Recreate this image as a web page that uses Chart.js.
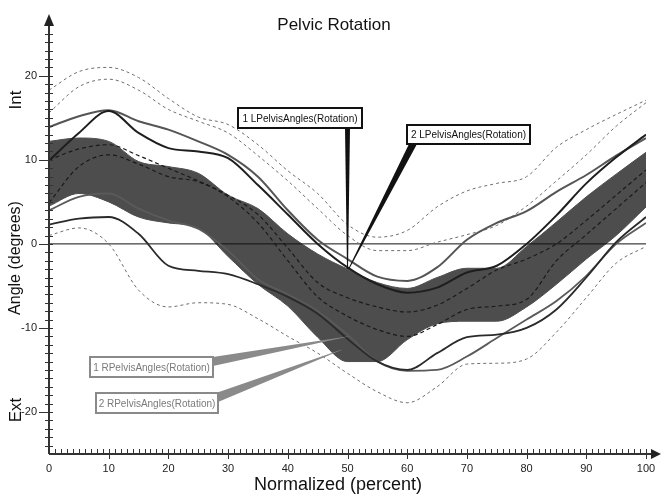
<!DOCTYPE html>
<html>
<head>
<meta charset="utf-8">
<script src="https://cdn.jsdelivr.net/npm/chart.js@4/dist/chart.umd.min.js"></script>
<style>
html, body { margin: 0; padding: 0; background: #fff; }
</style>
</head>
<body>
<canvas id="pelvis" width="661" height="498"></canvas>
<script>
// gait cycle, sampled every 5 percent
var pct = [0, 5, 10, 15, 20, 25, 30, 35, 40, 45, 50, 55, 60, 65, 70, 75, 80, 85, 90, 95, 100];

// normal range band
var normUpper = [12.2, 12.6, 12.2, 9.8, 9.2, 8.4, 5.8, 4.2, 1.2, -1.2, -3.0, -4.6, -5.3, -4.0, -2.9, -2.9, -0.3, 2.6, 5.6, 8.3, 10.9];
var normLower = [4.5, 6.0, 5.0, 3.2, 2.5, 1.9, -1.5, -4.8, -7.4, -11.1, -14.0, -14.0, -11.4, -9.5, -9.2, -9.2, -7.5, -4.8, -1.8, 1.0, 4.4];

// left side means
var left1 = [9.9, 13.2, 15.8, 13.2, 11.4, 11.0, 10.2, 7.0, 3.5, 0.0, -2.8, -4.8, -5.8, -5.2, -3.4, -2.6, 0.0, 3.4, 7.2, 10.3, 13.0];
var left2 = [13.9, 15.2, 15.9, 14.6, 13.6, 12.2, 10.6, 8.0, 4.0, 0.5, -1.8, -3.9, -4.4, -2.8, 0.5, 2.5, 3.9, 6.2, 8.2, 10.5, 12.6];
// right side means
var right1 = [2.3, 3.0, 3.2, 1.2, -2.6, -3.2, -3.6, -4.8, -6.3, -8.3, -11.3, -14.0, -15.0, -13.0, -11.1, -10.8, -10.0, -7.8, -4.0, 0.2, 3.2];
var right2 = [4.0, 5.6, 6.0, 4.2, 2.8, 1.8, -0.8, -4.2, -6.0, -8.0, -10.8, -14.0, -15.1, -15.0, -13.4, -11.2, -9.0, -6.8, -3.8, 0.0, 2.5];

// dashed spread lines
var outerUpA = [18.3, 20.5, 21.0, 19.8, 17.3, 15.1, 14.2, 11.8, 8.7, 6.0, 2.3, 0.8, 1.6, 4.4, 6.3, 7.2, 8.0, 11.5, 13.6, 15.4, 17.1];
var outerUpB = [15.6, 18.7, 19.6, 18.3, 16.0, 14.6, 13.2, 10.5, 7.5, 4.2, 1.0, -0.8, -0.8, 0.2, 1.1, 2.2, 4.5, 7.5, 10.6, 14.0, 16.8];
var outerLow = [1.0, 1.9, 0.0, -5.5, -7.5, -7.0, -7.2, -8.9, -11.0, -13.0, -15.4, -17.6, -18.9, -17.0, -14.3, -14.2, -13.7, -10.5, -6.4, -2.3, -0.3];
var innerA = [10.0, 11.3, 11.8, 10.5, 9.0, 7.5, 5.8, 3.5, -0.5, -4.6, -6.4, -7.5, -8.1, -7.3, -5.3, -3.1, -1.8, 0.0, 2.8, 5.8, 8.8];
var innerB = [4.9, 9.2, 10.6, 9.5, 8.0, 7.4, 5.6, 2.5, -2.0, -6.3, -8.6, -10.2, -11.0, -9.6, -7.8, -7.4, -6.6, -2.0, 1.1, 4.2, 7.3];

var zeroLine = [0, 0];
var zeroX = [0, 100];

var xTicks = [0, 10, 20, 30, 40, 50, 60, 70, 80, 90, 100];
var yTicks = [-20, -10, 0, 10, 20];

// callout texts and where they point (percent, degrees)
var calloutText = ['1 LPelvisAngles(Rotation)', '2 LPelvisAngles(Rotation)', '1 RPelvisAngles(Rotation)', '2 RPelvisAngles(Rotation)'];
var calloutTipX = [50, 50.2, 50.3, 49];
var calloutTipY = [-3, -3, -11, -12.6];

function pts(xv, yv) {
    return yv.map(function(v, i) { return { x: xv[i], y: v }; });
}

function curve(label, values, color, width, dash, order) {
    return {
        label: label,
        data: pts(pct, values),
        borderColor: color,
        borderWidth: width,
        borderDash: dash,
        pointRadius: 0,
        fill: false,
        cubicInterpolationMode: 'monotone',
        order: order
    };
}

var bandFill = curve('normal upper', normUpper, '#4d4d4d', 1, [], 10);
bandFill.fill = '+1';
bandFill.backgroundColor = '#4d4d4d';
var bandLow = curve('normal lower', normLower, '#4d4d4d', 1, [], 10);

var zero = {
    label: 'zero',
    data: pts(zeroX, zeroLine),
    borderColor: '#111',
    borderWidth: 1,
    pointRadius: 0,
    fill: false,
    order: 6
};

var decor = {
    id: 'decor',
    afterDraw: function(chart) {
        var ctx = chart.ctx;
        var xs = chart.scales.x, ys = chart.scales.y;
        var x0 = xs.getPixelForValue(0);
        var yb = ys.getPixelForValue(-25);
        ctx.save();

        // callouts
        var boxes = [
            [238, 108, 124, 20], [407, 125, 123, 19], [90, 357, 123, 20], [96, 393, 122, 20]
        ];
        var roots = [
            [[345, 128], [350, 128]], [[409, 144], [417, 144]],
            [[213, 357], [213, 366]], [[216, 393], [218, 402]]
        ];
        for (var i = 0; i < boxes.length; i++) {
            var isLeft = i < 2;
            var col = isLeft ? '#111' : '#8a8a8a';
            var tx = xs.getPixelForValue(calloutTipX[i]);
            var ty = ys.getPixelForValue(calloutTipY[i]);
            ctx.fillStyle = col;
            ctx.beginPath();
            ctx.moveTo(roots[i][0][0], roots[i][0][1]);
            ctx.lineTo(roots[i][1][0], roots[i][1][1]);
            ctx.lineTo(tx + 0.5, ty);
            ctx.lineTo(tx - 0.5, ty);
            ctx.closePath();
            ctx.fill();
            var b = boxes[i];
            ctx.fillStyle = '#fff';
            ctx.fillRect(b[0], b[1], b[2], b[3]);
            ctx.strokeStyle = col;
            ctx.lineWidth = 2;
            ctx.strokeRect(b[0], b[1], b[2], b[3]);
            ctx.fillStyle = isLeft ? '#111' : '#7a7a7a';
            ctx.font = '10px "Liberation Sans", Arial, sans-serif';
            ctx.textAlign = 'center';
            ctx.textBaseline = 'middle';
            ctx.fillText(calloutText[i], b[0] + b[2] / 2, b[1] + b[3] / 2 + 1);
        }

        // axes with arrows
        ctx.strokeStyle = '#333';
        ctx.fillStyle = '#222';
        ctx.lineWidth = 2;
        ctx.beginPath();
        ctx.moveTo(x0, yb);
        ctx.lineTo(x0, 24);
        ctx.moveTo(x0, yb);
        ctx.lineTo(652, yb);
        ctx.stroke();
        ctx.beginPath();
        ctx.moveTo(x0 - 5, 26); ctx.lineTo(x0 + 5, 26); ctx.lineTo(x0, 14); ctx.closePath();
        ctx.fill();
        ctx.beginPath();
        ctx.moveTo(651, yb - 5); ctx.lineTo(651, yb + 5); ctx.lineTo(661, yb); ctx.closePath();
        ctx.fill();

        // tick marks
        ctx.lineWidth = 1;
        ctx.beginPath();
        for (var v = -24; v <= 25; v++) {
            var py = Math.round(ys.getPixelForValue(v)) + 0.5;
            ctx.moveTo(v % 10 === 0 ? x0 - 10 : x0 - 4, py);
            ctx.lineTo(x0 + 4, py);
        }
        for (var u = 1; u <= 100; u++) {
            var px = Math.round(xs.getPixelForValue(u)) + 0.5;
            ctx.moveTo(px, yb - 5);
            ctx.lineTo(px, u % 10 === 0 ? yb + 5 : yb);
        }
        ctx.stroke();

        // titles
        ctx.fillStyle = '#111';
        ctx.textAlign = 'center';
        ctx.textBaseline = 'middle';
        ctx.font = '17px "Liberation Sans", Arial, sans-serif';
        ctx.fillText('Pelvic Rotation', 334, 25);
        ctx.font = '18px "Liberation Sans", Arial, sans-serif';
        ctx.fillText('Normalized (percent)', 338, 485);
        var side = [['Int', 100, 17], ['Angle (degrees)', 258, 16], ['Ext', 410, 17]];
        side.forEach(function(s) {
            ctx.save();
            ctx.translate(16, s[1]);
            ctx.rotate(-Math.PI / 2);
            ctx.font = s[2] + 'px "Liberation Sans", Arial, sans-serif';
            ctx.fillText(s[0], 0, 0);
            ctx.restore();
        });
        ctx.restore();
    }
};

var chart = new Chart(document.getElementById('pelvis'), {
    type: 'line',
    data: {
        datasets: [
            bandFill,
            bandLow,
            zero,
            curve('outer up A', outerUpA, '#6e6e6e', 1, [3, 3], 5),
            curve('outer up B', outerUpB, '#6e6e6e', 1, [3, 3], 5),
            curve('outer low', outerLow, '#6e6e6e', 1, [3, 3], 5),
            curve('inner A', innerA, '#1a1a1a', 1.2, [4, 3], 5),
            curve('inner B', innerB, '#1a1a1a', 1.2, [4, 3], 5),
            curve('1 LPelvisAngles', left1, '#1e1e1e', 2, [], 1),
            curve('2 LPelvisAngles', left2, '#555', 2, [], 1),
            curve('1 RPelvisAngles', right1, '#2a2a2a', 1.8, [], 1),
            curve('2 RPelvisAngles', right2, '#5a5a5a', 1.8, [], 1)
        ]
    },
    options: {
        responsive: false,
        animation: false,
        layout: { padding: { top: 17, right: 15, left: 0, bottom: 0 } },
        scales: {
            x: {
                type: 'linear',
                min: 0,
                max: 100,
                grid: { display: false },
                border: { display: false },
                afterBuildTicks: function(s) { s.ticks = xTicks.map(function(v) { return { value: v }; }); },
                afterFit: function(s) { s.height = 44; },
                ticks: { padding: 0, maxRotation: 0, color: '#222', font: { family: 'Liberation Sans', size: 11 } }
            },
            y: {
                type: 'linear',
                min: -25,
                max: 27,
                grid: { display: false },
                border: { display: false },
                afterBuildTicks: function(s) { s.ticks = yTicks.map(function(v) { return { value: v }; }); },
                afterFit: function(s) { s.width = 49; },
                ticks: { padding: 4, color: '#222', font: { family: 'Liberation Sans', size: 11 } }
            }
        },
        plugins: {
            legend: { display: false },
            tooltip: { enabled: false },
            title: { display: false }
        }
    },
    plugins: [decor]
});
</script>
</body>
</html>
